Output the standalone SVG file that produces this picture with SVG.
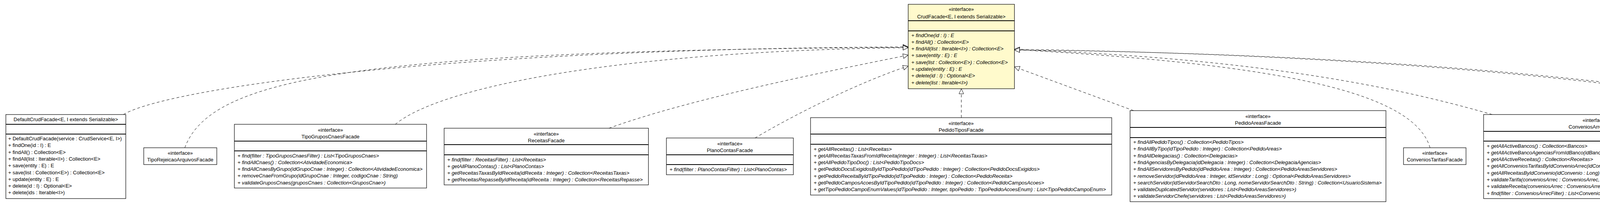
<svg xmlns="http://www.w3.org/2000/svg" width="5057" height="527" viewBox="0 0 5057 527">
<style>
.bg{fill:#fff}
.box{fill:#fff;stroke:#000;stroke-width:1.2}
.iface{fill:#FFFACC;stroke:#000;stroke-width:1.2}
.sep{stroke:#000;stroke-width:2}
.t{font-family:"Liberation Sans",Arial,sans-serif;font-size:13px;fill:#000}
.c{text-anchor:middle}
.m{font-style:italic}
.edge{fill:none;stroke:#000;stroke-width:1;stroke-dasharray:7 6;marker-end:url(#tri)}
</style>
<defs>
<marker id="tri" markerUnits="userSpaceOnUse" markerWidth="16" markerHeight="14" refX="13" refY="6" orient="auto" overflow="visible">
<path d="M0,0 L13,6 L0,12 Z" fill="#fff" stroke="#000" stroke-width="1"/>
</marker>
</defs>
<rect class="bg" x="0" y="0" width="5057" height="527"/>

<g id="connectors">
<path class="edge" d="M316,293 C420,230 1100,125 2325,120"/>
<path class="edge" d="M473,378 C540,200 900,130 2325,121"/>
<path class="edge" d="M1012,318 C1130,220 1600,130 2325,122"/>
<path class="edge" d="M1559,328 C1760,255 2100,186 2325,141"/>
<path class="edge" d="M1933,353 C2030,295 2200,210 2325,169"/>
<path class="edge" d="M2461,301 L2461,227"/>
<path class="edge" d="M2902,283 L2597,171"/>
<path class="edge" d="M3661,378 C3620,240 3300,165 2597,127"/>
<path class="edge" d="M3820,293 C3600,230 3250,150 2597,127"/>
<path class="edge" d="M4460,378 C4445,300 4400,255 4250,232 C3800,170 3200,135 2597,126"/>
<path class="edge" d="M4651,318 C4600,285 4450,245 4250,228 C3800,168 3200,133 2597,128"/>
</g>

<g id="CrudFacade">
<rect class="iface" x="2325" y="11" width="272" height="216"/>
<line class="sep" x1="2325" y1="53" x2="2597" y2="53"/>
<line class="sep" x1="2325" y1="79" x2="2597" y2="79"/>
<text class="t c" x="2461" y="27.5">«interface»</text>
<text class="t c" x="2461" y="46.5">CrudFacade&lt;E, I extends Serializable&gt;</text>
<text class="t m" x="2333" y="94.5">+ findOne(id : I) : E</text>
<text class="t m" x="2333" y="111.8">+ findAll() : Collection&lt;E&gt;</text>
<text class="t m" x="2333" y="129.1">+ findAll(list : Iterable&lt;I&gt;) : Collection&lt;E&gt;</text>
<text class="t m" x="2333" y="146.4">+ save(entity : E) : E</text>
<text class="t m" x="2333" y="163.7">+ save(list : Collection&lt;E&gt;) : Collection&lt;E&gt;</text>
<text class="t m" x="2333" y="181">+ update(entity : E) : E</text>
<text class="t m" x="2333" y="198.3">+ delete(id : I) : Optional&lt;E&gt;</text>
<text class="t m" x="2333" y="215.6">+ delete(list : Iterable&lt;I&gt;)</text>
</g>

<g id="DefaultCrudFacade">
<rect class="box" x="15" y="293" width="307" height="215"/>
<line class="sep" x1="15" y1="318" x2="322" y2="318"/>
<line class="sep" x1="15" y1="343" x2="322" y2="343"/>
<text class="t c" x="168.5" y="310">DefaultCrudFacade&lt;E, I extends Serializable&gt;</text>
<text class="t" x="21" y="359">+ DefaultCrudFacade(service : CrudService&lt;E, I&gt;)</text>
<text class="t" x="21" y="376.3">+ findOne(id : I) : E</text>
<text class="t" x="21" y="393.6">+ findAll() : Collection&lt;E&gt;</text>
<text class="t" x="21" y="410.9">+ findAll(list : Iterable&lt;I&gt;) : Collection&lt;E&gt;</text>
<text class="t" x="21" y="428.2">+ save(entity : E) : E</text>
<text class="t" x="21" y="445.5">+ save(list : Collection&lt;E&gt;) : Collection&lt;E&gt;</text>
<text class="t" x="21" y="462.8">+ update(entity : E) : E</text>
<text class="t" x="21" y="480.1">+ delete(id : I) : Optional&lt;E&gt;</text>
<text class="t" x="21" y="497.4">+ delete(ids : Iterable&lt;I&gt;)</text>
</g>

<g id="TipoRejeicaoArquivosFacade">
<rect class="box" x="368" y="378" width="187" height="43"/>
<text class="t c" x="461.5" y="395.5">«interface»</text>
<text class="t c" x="461.5" y="412.5">TipoRejeicaoArquivosFacade</text>
</g>

<g id="TipoGruposCnaesFacade">
<rect class="box" x="600" y="318" width="492" height="163"/>
<line class="sep" x1="600" y1="361" x2="1092" y2="361"/>
<line class="sep" x1="600" y1="386" x2="1092" y2="386"/>
<text class="t c" x="846" y="336.5">«interface»</text>
<text class="t c" x="846" y="353.5">TipoGruposCnaesFacade</text>
<text class="t m" x="608" y="402.5">+ find(filter : TipoGruposCnaesFilter) : List&lt;TipoGruposCnaes&gt;</text>
<text class="t m" x="608" y="419.8">+ findAllCnaes() : Collection&lt;AtividadeEconomica&gt;</text>
<text class="t m" x="608" y="437.1">+ findAllCnaesByGrupo(idGrupoCnae : Integer) : Collection&lt;AtividadeEconomica&gt;</text>
<text class="t m" x="608" y="454.4">+ removeCnaeFromGrupo(idGrupoCnae : Integer, codigoCnae : String)</text>
<text class="t m" x="608" y="471.7">+ validateGruposCnaes(gruposCnaes : Collection&lt;GruposCnae&gt;)</text>
</g>

<g id="ReceitasFacade">
<rect class="box" x="1137" y="328" width="523" height="145"/>
<line class="sep" x1="1137" y1="370" x2="1660" y2="370"/>
<line class="sep" x1="1137" y1="396" x2="1660" y2="396"/>
<text class="t c" x="1398.5" y="346.5">«interface»</text>
<text class="t c" x="1398.5" y="363.5">ReceitasFacade</text>
<text class="t m" x="1145" y="412.5">+ find(filter : ReceitasFilter) : List&lt;Receitas&gt;</text>
<text class="t m" x="1145" y="429.8">+ getAllPlanoContas() : List&lt;PlanoContas&gt;</text>
<text class="t m" x="1145" y="447.1">+ getReceitasTaxasByIdReceita(idReceita : Integer) : Collection&lt;ReceitasTaxas&gt;</text>
<text class="t m" x="1145" y="464.4">+ getReceitasRepasseByIdReceita(idReceita : Integer) : Collection&lt;ReceitasRepasse&gt;</text>
</g>

<g id="PlanoContasFacade">
<rect class="box" x="1706" y="353" width="325" height="94"/>
<line class="sep" x1="1706" y1="396" x2="2031" y2="396"/>
<line class="sep" x1="1706" y1="421" x2="2031" y2="421"/>
<text class="t c" x="1868.5" y="371.5">«interface»</text>
<text class="t c" x="1868.5" y="388.5">PlanoContasFacade</text>
<text class="t m" x="1714" y="437.5">+ find(filter : PlanoContasFilter) : List&lt;PlanoContas&gt;</text>
</g>

<g id="PedidoTiposFacade">
<rect class="box" x="2075" y="301" width="771" height="198"/>
<line class="sep" x1="2075" y1="343" x2="2846" y2="343"/>
<line class="sep" x1="2075" y1="369" x2="2846" y2="369"/>
<text class="t c" x="2460.5" y="319.5">«interface»</text>
<text class="t c" x="2460.5" y="336.5">PedidoTiposFacade</text>
<text class="t m" x="2083" y="385.5">+ getAllReceitas() : List&lt;Receitas&gt;</text>
<text class="t m" x="2083" y="402.8">+ getAllReceitasTaxasFromIdReceita(integer : Integer) : List&lt;ReceitasTaxas&gt;</text>
<text class="t m" x="2083" y="420.1">+ getAllPedidoTipoDoc() : List&lt;PedidoTipoDocs&gt;</text>
<text class="t m" x="2083" y="437.4">+ getPedidoDocsExigidosByIdTipoPedido(idTipoPedido : Integer) : Collection&lt;PedidoDocsExigidos&gt;</text>
<text class="t m" x="2083" y="454.7">+ getPedidoReceitaByIdTipoPedido(idTipoPedido : Integer) : Collection&lt;PedidoReceita&gt;</text>
<text class="t m" x="2083" y="472">+ getPedidoCamposAcoesByIdTipoPedido(idTipoPedido : Integer) : Collection&lt;PedidoCamposAcoes&gt;</text>
<text class="t m" x="2083" y="489.3">+ getTipoPedidoCampoEnumValues(idTipoPedido : Integer, tipoPedido : TipoPedidoAcoesEnum) : List&lt;TipoPedidoCampoEnum&gt;</text>
</g>

<g id="PedidoAreasFacade">
<rect class="box" x="2893" y="283" width="655" height="233"/>
<line class="sep" x1="2893" y1="326" x2="3548" y2="326"/>
<line class="sep" x1="2893" y1="352" x2="3548" y2="352"/>
<text class="t c" x="3220.5" y="301.5">«interface»</text>
<text class="t c" x="3220.5" y="318.5">PedidoAreasFacade</text>
<text class="t m" x="2901" y="368">+ findAllPedidoTipos() : Collection&lt;PedidoTipos&gt;</text>
<text class="t m" x="2901" y="385.3">+ findAllByTipo(idTipoPedido : Integer) : Collection&lt;PedidoAreas&gt;</text>
<text class="t m" x="2901" y="402.6">+ findAllDelegacias() : Collection&lt;Delegacias&gt;</text>
<text class="t m" x="2901" y="419.9">+ findAgenciasByDelegacia(idDelegacia : Integer) : Collection&lt;DelegaciaAgencias&gt;</text>
<text class="t m" x="2901" y="437.2">+ findAllServidoresByPedido(idPedidoArea : Integer) : Collection&lt;PedidoAreasServidores&gt;</text>
<text class="t m" x="2901" y="454.5">+ removeServidor(idPedidoArea : Integer, idServidor : Long) : Optional&lt;PedidoAreasServidores&gt;</text>
<text class="t m" x="2901" y="471.8">+ searchServidor(idServidorSearchDto : Long, nomeServidorSearchDto : String) : Collection&lt;UsuarioSistema&gt;</text>
<text class="t m" x="2901" y="489.1">+ validateDuplicatedServidor(servidores : List&lt;PedidoAreasServidores&gt;)</text>
<text class="t m" x="2901" y="506.4">+ validateServidorChefe(servidores : List&lt;PedidoAreasServidores&gt;)</text>
</g>

<g id="ConveniosTarifasFacade">
<rect class="box" x="3593" y="378" width="160" height="43"/>
<text class="t c" x="3673" y="395.5">«interface»</text>
<text class="t c" x="3673" y="412.5">ConveniosTarifasFacade</text>
</g>

<g id="ConveniosArrecFacade">
<rect class="box" x="3798" y="293" width="571" height="215"/>
<line class="sep" x1="3798" y1="336" x2="4369" y2="336"/>
<line class="sep" x1="3798" y1="361" x2="4369" y2="361"/>
<text class="t c" x="4083.5" y="311.5">«interface»</text>
<text class="t c" x="4083.5" y="328.5">ConveniosArrecFacade</text>
<text class="t m" x="3806" y="377.5">+ getAllActiveBancos() : Collection&lt;Bancos&gt;</text>
<text class="t m" x="3806" y="394.8">+ getAllActiveBancoAgenciasFromIdBanco(idBanco : Integer) : Collection&lt;BancoAgencias&gt;</text>
<text class="t m" x="3806" y="412.1">+ getAllActiveReceitas() : Collection&lt;Receitas&gt;</text>
<text class="t m" x="3806" y="429.4">+ getAllConveniosTarifasByIdConvenioArrec(idConvenio : Long) : Collection&lt;ConveniosTarifas&gt;</text>
<text class="t m" x="3806" y="446.7">+ getAllReceitasByIdConvenio(idConvenio : Long) : Collection&lt;Receitas&gt;</text>
<text class="t m" x="3806" y="464">+ validateTarifa(conveniosArrec : ConveniosArrec, conveniosTarifas : ConveniosTarifas)</text>
<text class="t m" x="3806" y="481.3">+ validateReceita(conveniosArrec : ConveniosArrec, receita : Receitas)</text>
<text class="t m" x="3806" y="498.6">+ find(filter : ConveniosArrecFilter) : List&lt;ConveniosArrec&gt;</text>
</g>

<g id="BancosFacade">
<rect class="box" x="4415" y="378" width="106" height="43"/>
<text class="t c" x="4468" y="395.5">«interface»</text>
<text class="t c" x="4468" y="412.5">BancosFacade</text>
</g>

<g id="BancoAgenciasFacade">
<rect class="box" x="4568" y="318" width="473" height="163"/>
<line class="sep" x1="4568" y1="361" x2="5041" y2="361"/>
<line class="sep" x1="4568" y1="386" x2="5041" y2="386"/>
<text class="t c" x="4804.5" y="336.5">«interface»</text>
<text class="t c" x="4804.5" y="353.5">BancoAgenciasFacade</text>
<text class="t m" x="4576" y="402.5">+ findByIdBanco(idBanco : Integer) : Collection&lt;BancoAgencias&gt;</text>
<text class="t m" x="4576" y="419.8">+ findAllEstados() : Collection&lt;Estado&gt;</text>
<text class="t m" x="4576" y="437.1">+ findMunicipiosByUF(uf : String) : Collection&lt;Municipio&gt;</text>
<text class="t m" x="4576" y="454.4">+ validateSave(agencia : BancoAgencias, list : Collection&lt;BancoAgencias&gt;)</text>
<text class="t m" x="4576" y="471.7">+ validateUpdate(agencia : BancoAgencias, list : Collection&lt;BancoAgencias&gt;)</text>
</g>
</svg>
